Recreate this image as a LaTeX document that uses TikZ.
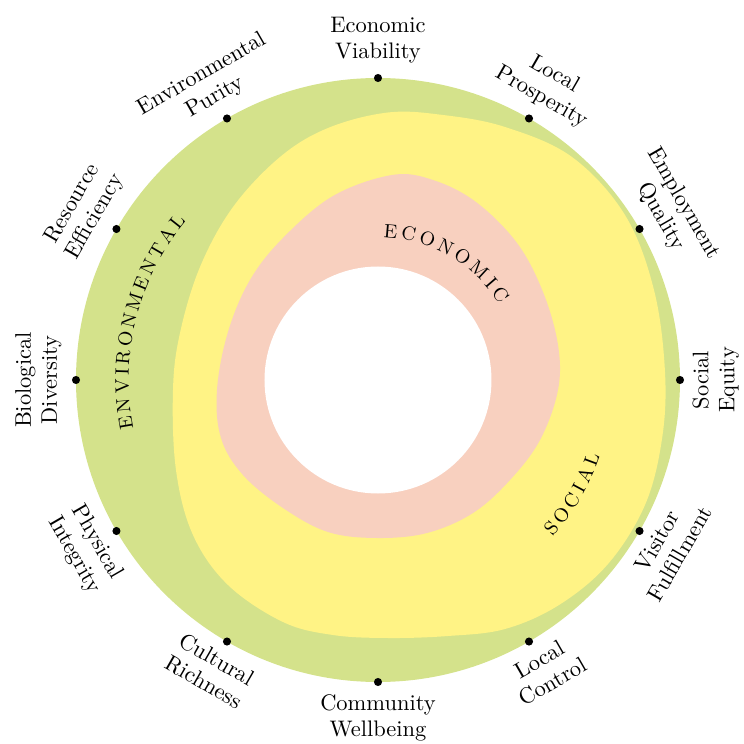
\documentclass[tikz,border=0pt]{standalone}
\usepackage{fontspec}

\definecolor{envgreen}{RGB}{212,226,139}
\definecolor{socyellow}{RGB}{255,243,133}
\definecolor{ecopink}{RGB}{248,208,191}

\tikzset{
  pin dot/.style={circle, fill=black, inner sep=0pt, minimum size=3.6pt},
  outer label/.style={align=center, inner sep=0pt, font=\fontsize{10}{11.6}\selectfont},
  cat letter/.style={inner sep=0pt, anchor=base, font=\fontsize{8.6}{10}\selectfont},
}

\begin{document}
\begin{tikzpicture}[x=0.445pt,y=0.445pt]
\useasboundingbox (-378,-364) rectangle (366,380);

% environmental ring
\fill[envgreen] (0,0) circle[radius=302];

% social zone
\fill[socyellow] plot[smooth cycle, tension=0.6] coordinates {
  (10,267.5) (-50,252) (-98,223) (-145,173) (-178,113) (-198,47)
  (-205,-10) (-202,-90) (-185,-155) (-150,-205) (-95,-242) (-45,-255)
  (10,-258) (70,-256) (127,-249) (181,-225) (230,-184) (267,-125)
  (284,-59) (287,8) (276,90) (247,165) (194,223) (127,253) (65,265)};

% economic zone
\fill[ecopink] plot[smooth cycle, tension=0.6] coordinates {
  (14,205) (55,200) (98,178) (139,137) (165,88) (180,35)
  (180,-10) (162,-60) (132,-100) (95,-133) (49,-153) (-1,-158)
  (-50,-152) (-95,-128) (-135,-95) (-157,-58) (-161,-10)
  (-150,48) (-128,100) (-95,142) (-45,184)};

% empty core
\fill[white] (0,0) circle[radius=113.5];

% zone names set letter by letter along arcs
\foreach \ch/\ang in {E/85.1,C/78.1,O/70.6,N/63.1,O/55.5,M/47.3,I/40.7,C/34.9}
  \node[cat letter, rotate=\ang-90] (eco\ang) at (\ang:142.9) {\ch};
\foreach \ch/\ang in {E/189.7,N/185.7,V/181.5,I/178.2,R/175.0,O/170.8,N/166.6,
                      M/162.1,E/157.8,N/153.8,T/149.7,A/145.6,L/141.7}
  \node[cat letter, rotate=\ang-90] (env\ang) at (\ang:249.4) {\ch};
\foreach \ch/\ang in {S/-40.6,O/-36.4,C/-31.9,I/-28.3,A/-24.7,L/-20.4}
  \node[cat letter, rotate=\ang+90] (soc\ang) at (\ang:234.6) {\ch};

% indicator points on the rim
\foreach \a in {90,60,30,0,-30,-60,-90,-120,-150,-180,-210,-240}
  \node[pin dot] (dot\a) at (\a:302) {};

% indicator names, upper half
\foreach \a/\t in {90/{Economic\\Viability},60/{Local\\Prosperity},
                   30/{Employment\\Quality},180/{Biological\\Diversity},
                   150/{Resource\\Efficiency},120/{Environmental\\Purity}}
  \node[outer label, rotate=\a-90, anchor=south] (lab\a) at (\a:316) {\t};

% indicator names, lower half
\foreach \a/\t in {0/{Social\\Equity},-30/{Visitor\\Fulfillment},
                   -60/{Local\\Control},-90/{Community\\Wellbeing},
                   -120/{Cultural\\Richness},-150/{Physical\\Integrity}}
  \node[outer label, rotate=\a+90, anchor=north] (lab\a) at (\a:314) {\t};
\end{tikzpicture}
\end{document}
